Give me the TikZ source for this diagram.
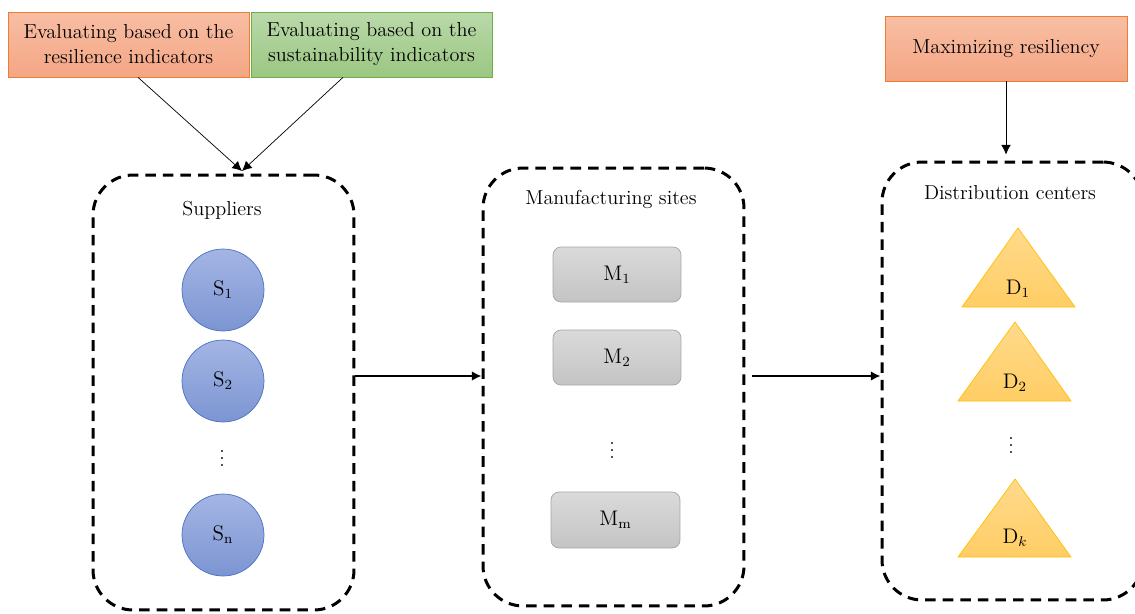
\documentclass[tikz,border=0pt]{standalone}
\usepackage{amsmath}
\usepackage{tikz}
\usetikzlibrary{arrows.meta}

\definecolor{orgtop}{RGB}{248,190,164}
\definecolor{orgbot}{RGB}{244,166,132}
\definecolor{orgline}{RGB}{237,125,49}
\definecolor{grntop}{RGB}{186,217,170}
\definecolor{grnbot}{RGB}{155,199,130}
\definecolor{grnline}{RGB}{112,173,71}
\definecolor{blutop}{RGB}{164,181,228}
\definecolor{blubot}{RGB}{124,149,210}
\definecolor{bluline}{RGB}{74,114,196}
\definecolor{grytop}{RGB}{218,218,218}
\definecolor{grybot}{RGB}{196,196,196}
\definecolor{gryline}{RGB}{165,165,165}
\definecolor{yeltop}{RGB}{255,218,140}
\definecolor{yelbot}{RGB}{255,205,100}
\definecolor{yelline}{RGB}{255,192,0}

\begin{document}
\begin{tikzpicture}[x=0.02cm,y=-0.02cm,
  font=\fontsize{11.5}{14.2}\selectfont,
  redbox/.style={draw=orgline,top color=orgtop,bottom color=orgbot,
    minimum width=4.82cm,minimum height=1.3cm,align=center,inner sep=0pt},
  greenbox/.style={redbox,draw=grnline,top color=grntop,bottom color=grnbot},
  stage/.style={draw,line width=1.7pt,dash pattern=on 6pt off 4pt,
    rounded corners=0.8cm,minimum width=5.22cm,minimum height=8.76cm},
  supplier/.style={circle,draw=bluline,top color=blutop,bottom color=blubot,
    minimum size=1.64cm,inner sep=0pt},
  plant/.style={draw=gryline,top color=grytop,bottom color=grybot,
    rounded corners=0.16cm,minimum width=2.56cm,minimum height=1.1cm},
  center/.style={draw=yelline,top color=yeltop,bottom color=yelbot},
  dots/.style={inner sep=0pt},
  >={Latex[length=5.5pt,width=5.5pt]}]
\useasboundingbox (0,0) rectangle (1135,613);
\clip (0,0) rectangle (1135,613);
% criteria on top
\node [redbox] (resil) at (128.5,44.5) {Evaluating based on the\\resilience indicators};
\node [greenbox] (sust) at (371.5,44.5) {Evaluating based on the\\sustainability indicators};
\node [redbox,minimum width=4.84cm] (maxres) at (1006,48.5) {Maximizing resiliency};
% the three stages
\node [stage,minimum height=8.7cm] (sup) at (223.5,392.5) {};
\node [stage] (man) at (613.5,387) {};
\node [stage] (dist) at (1012.5,381) {};
\node (suptitle) at (222,210) {Suppliers};
\node (mantitle) at (611,199) {Manufacturing sites};
\node (disttitle) at (1010,193) {Distribution centers};
% suppliers
\node [supplier] (s1) at (223,290) {$\mathrm{S}_1$};
\node [supplier] (s2) at (223,381) {$\mathrm{S}_2$};
\node [dots] (sdots) at (222,453) {$\vdots$};
\node [supplier] (sn) at (223,535) {$\mathrm{S}_\mathrm{n}$};
% manufacturing sites
\node [plant] (m1) at (617,274.5) {$\mathrm{M}_1$};
\node [plant] (m2) at (617,357.5) {$\mathrm{M}_2$};
\node [dots] (mdots) at (612,445) {$\vdots$};
\node [plant,minimum width=2.58cm,minimum height=1.12cm] (mm) at (615.5,520) {$\mathrm{M}_\mathrm{m}$};
% distribution centers
\draw [center] (1018,228) -- (1075,307) -- (962,307) -- cycle;
\draw [center] (1015,322) -- (1071,401) -- (958,401) -- cycle;
\draw [center] (1015,479) -- (1071,557) -- (958,557) -- cycle;
\node (d1) at (1018,289) {$\mathrm{D}_1$};
\node (d2) at (1015,383) {$\mathrm{D}_2$};
\node [dots] (ddots) at (1011,440) {$\vdots$};
\node (dk) at (1015,538) {$\mathrm{D}_k$};
% arrows
\coordinate (supin) at (242,171);
\draw [->] ([xshift=0.19cm]resil.south) -- (supin);
\draw [->] ([xshift=-0.57cm]sust.south) -- (supin);
\draw [->,shorten >=0.12cm] (maxres.south) -- (maxres.south |- dist.north);
\draw [->,line width=1.2pt] (sup.east |- 0,376) -- (man.west |- 0,376);
\draw [->,line width=1.2pt,shorten <=0.14cm] (man.east |- 0,376) -- (dist.west |- 0,376);
\end{tikzpicture}
\end{document}
